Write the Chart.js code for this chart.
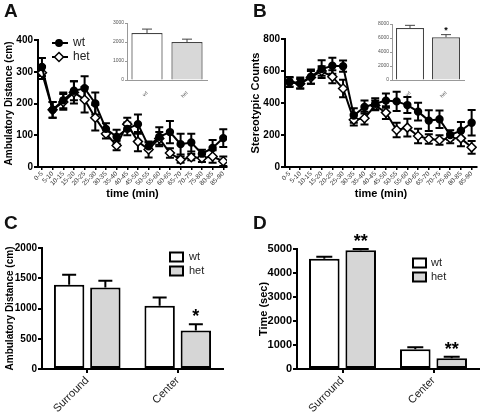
<!DOCTYPE html>
<html>
<head>
<meta charset="utf-8">
<script src="https://cdn.jsdelivr.net/npm/chart.js@4.4.1/dist/chart.umd.min.js"></script>
<style>
  body { margin: 0; background: #fff; }
  #wrap { position: relative; width: 483px; height: 416px; overflow: hidden; font-family: "Liberation Sans", Arial, sans-serif; }
  canvas { position: absolute; }
  .letter { position: absolute; font-weight: bold; font-size: 19px; color: #111; }
</style>
</head>
<body>
<div id="wrap">
  <canvas id="chartA" width="240" height="205" style="left:0;top:0"></canvas>
  <canvas id="chartB" width="243" height="205" style="left:240px;top:0"></canvas>
  <canvas id="chartC" width="240" height="211" style="left:0;top:205px"></canvas>
  <canvas id="chartD" width="243" height="211" style="left:240px;top:205px"></canvas>
  <canvas id="insetA" width="120" height="90" style="left:95px;top:12px"></canvas>
  <canvas id="insetB" width="115" height="90" style="left:355px;top:12px"></canvas>
  <div class="letter" style="left:4px;top:0">A</div>
  <div class="letter" style="left:253px;top:0">B</div>
  <div class="letter" style="left:4px;top:212px">C</div>
  <div class="letter" style="left:253px;top:212px">D</div>
</div>
<script>
// ---- data ----
const timeLabels = ["0-5", "5-10", "10-15", "15-20", "20-25", "25-30", "30-35", "35-40", "40-45",
  "45-50", "50-55", "55-60", "60-65", "65-70", "70-75", "75-80", "80-85", "85-90"];

const ambWt = [315, 180, 210, 240, 248, 200, 120, 95, 120, 135, 65, 95, 110, 72, 77, 42, 60, 91];
const ambWtErr = [28, 25, 25, 30, 38, 35, 18, 22, 20, 30, 12, 30, 35, 33, 28, 12, 25, 28];
const ambHet = [297, 180, 205, 235, 212, 155, 105, 68, 135, 80, 55, 90, 44, 23, 31, 28, 33, 18];
const ambHetErr = [20, 25, 25, 35, 40, 40, 15, 15, 20, 30, 25, 20, 15, 10, 10, 12, 20, 15];

const stereoWt = [533, 525, 565, 612, 633, 630, 322, 375, 395, 415, 410, 387, 346, 290, 298, 200, 227, 277];
const stereoWtErr = [30, 35, 45, 55, 50, 35, 45, 40, 35, 45, 60, 50, 55, 65, 55, 30, 55, 80];
const stereoHet = [530, 520, 560, 600, 564, 491, 295, 305, 385, 340, 231, 246, 194, 175, 169, 179, 179, 123];
const stereoHetErr = [30, 30, 40, 30, 40, 55, 35, 40, 30, 40, 45, 55, 45, 30, 30, 30, 50, 40];

const groups = ["wt", "het"];
const totalAmb = [2470, 1994];
const totalAmbErr = [210, 156];
const totalStereo = [7430, 6100];
const totalStereoErr = [380, 380];
const totalStereoStars = ["", "*"];

const zones = ["Surround", "Center"];
const zoneDistWt = [1392, 1044];
const zoneDistWtErr = [166, 138];
const zoneDistHet = [1348, 635];
const zoneDistHetErr = [111, 105];
const zoneDistHetStars = ["", "*"];

const zoneTimeWt = [4596, 822];
const zoneTimeWtErr = [84, 83];
const zoneTimeHet = [4944, 446];
const zoneTimeHetErr = [56, 69];
const zoneTimeHetStars = ["**", "**"];

Chart.defaults.font.family = '"Liberation Sans", Arial, sans-serif';
Chart.defaults.color = "#000";
Chart.defaults.animation = false;

// error bars (one sided for bars, both sides for lines)
const errorBars = {
  id: "errorBars",
  draw(chart, opts) {
    const ctx = chart.ctx;
    const y = chart.scales.y;
    chart.data.datasets.forEach((ds, di) => {
      if (!ds.errors) return;
      const meta = chart.getDatasetMeta(di);
      meta.data.forEach((el, i) => {
        const raw = ds.data[i];
        const v = typeof raw === "object" ? raw.y : raw;
        const e = ds.errors[i];
        const top = y.getPixelForValue(v + e);
        const bot = opts.both ? y.getPixelForValue(v - e) : y.getPixelForValue(v);
        ctx.save();
        ctx.strokeStyle = opts.color || "#000";
        ctx.lineWidth = opts.width || 2;
        ctx.beginPath();
        ctx.moveTo(el.x, top);
        ctx.lineTo(el.x, bot);
        ctx.moveTo(el.x - opts.cap, top);
        ctx.lineTo(el.x + opts.cap, top);
        if (opts.both) {
          ctx.moveTo(el.x - opts.cap, bot);
          ctx.lineTo(el.x + opts.cap, bot);
        }
        ctx.stroke();
        if (ds.stars && ds.stars[i]) {
          ctx.fillStyle = "#000";
          ctx.font = "bold " + opts.starSize + "px " + Chart.defaults.font.family;
          ctx.textAlign = "center";
          ctx.textBaseline = "alphabetic";
          ctx.fillText(ds.stars[i], el.x, top - 2);
        }
        ctx.restore();
      });
    });
  },
  beforeDatasetsDraw(chart, args, opts) { if (opts.before) this.draw(chart, opts); },
  afterDatasetsDraw(chart, args, opts) { if (!opts.before) this.draw(chart, opts); }
};

// legend drawn inside the plot, Prism style
const panelLegend = {
  id: "panelLegend",
  afterDraw(chart, args, opts) {
    if (!opts.kind) return;
    const ctx = chart.ctx;
    ctx.save();
    chart.data.datasets.forEach((ds, i) => {
      const x = opts.x, yy = opts.y + i * opts.gap;
      ctx.strokeStyle = "#000";
      if (opts.kind === "line") {
        ctx.lineWidth = 2;
        ctx.beginPath();
        ctx.moveTo(x, yy);
        ctx.lineTo(x + 16, yy);
        ctx.stroke();
        ctx.fillStyle = ds.pointBackgroundColor;
        ctx.lineWidth = 1.5;
        ctx.beginPath();
        if (ds.pointStyle === "circle") {
          ctx.arc(x + 7, yy, 3.2, 0, Math.PI * 2);
        } else {
          ctx.moveTo(x + 7, yy - 4.5); ctx.lineTo(x + 11.5, yy);
          ctx.lineTo(x + 7, yy + 4.5); ctx.lineTo(x + 2.5, yy); ctx.closePath();
        }
        ctx.fill();
        ctx.stroke();
      } else {
        ctx.lineWidth = 2;
        ctx.fillStyle = ds.backgroundColor;
        ctx.fillRect(x, yy - 4.5, 13, 9);
        ctx.strokeRect(x, yy - 4.5, 13, 9);
      }
      ctx.fillStyle = "#222";
      ctx.font = opts.size + "px " + Chart.defaults.font.family;
      ctx.textBaseline = "middle";
      ctx.textAlign = "left";
      ctx.fillText(ds.label, x + opts.textOff, yy);
    });
    ctx.restore();
  }
};

function yAxis(max, step, title, size, titleSize, width) {
  return {
    min: 0, max: max,
    ticks: { stepSize: step, font: { size: size, weight: "bold" }, padding: 1, callback: v => String(v) },
    grid: { drawOnChartArea: false, tickLength: 4, color: "#000", lineWidth: 2 },
    border: { color: "#000", width: 2 },
    title: { display: true, text: title, font: { size: titleSize, weight: "bold" }, padding: { top: 0, bottom: 2 } },
    afterFit: s => { s.width = width; }
  };
}

function timeAxis(min, max) {
  return {
    type: "linear", min: min, max: max,
    ticks: {
      stepSize: 1, includeBounds: false, autoSkip: false, maxRotation: 45, minRotation: 45,
      font: { size: 6.5 }, color: "#333", padding: 0,
      callback: v => (Number.isInteger(v) ? timeLabels[v] : "")
    },
    grid: { drawOnChartArea: false, tickLength: 3, color: "#000", lineWidth: 1.5 },
    border: { color: "#000", width: 2 },
    title: { display: true, text: "time (min)", font: { size: 11, weight: "bold" }, padding: 0 },
    afterFit: s => { s.height = 34; }
  };
}

function lineSets(wt, wtErr, het, hetErr) {
  return [
    { label: "wt", data: wt.map((v, i) => ({ x: i, y: v })), errors: wtErr,
      borderColor: "#000", borderWidth: 2, pointStyle: "circle", pointRadius: 3.2,
      pointBackgroundColor: "#000", pointBorderColor: "#000", tension: 0 },
    { label: "het", data: het.map((v, i) => ({ x: i, y: v })), errors: hetErr,
      borderColor: "#000", borderWidth: 2, pointStyle: "rectRot", pointRadius: 4.5,
      pointBackgroundColor: "#fff", pointBorderColor: "#000", pointBorderWidth: 1.5, tension: 0 }
  ];
}

new Chart(document.getElementById("chartA"), {
  type: "line",
  data: { datasets: lineSets(ambWt, ambWtErr, ambHet, ambHetErr) },
  options: {
    responsive: false,
    layout: { padding: { top: 40, left: 3, right: 13, bottom: 4 } },
    scales: { x: timeAxis(-0.37, 17.35), y: yAxis(400, 100, "Ambulatory Distance (cm)", 10, 10, 35) },
    plugins: {
      legend: { display: false }, tooltip: { enabled: false },
      errorBars: { both: true, cap: 4, width: 2, before: true },
      panelLegend: { kind: "line", x: 52, y: 43, gap: 14, size: 12, textOff: 21 }
    }
  },
  plugins: [errorBars, panelLegend]
});

new Chart(document.getElementById("chartB"), {
  type: "line",
  data: { datasets: lineSets(stereoWt, stereoWtErr, stereoHet, stereoHetErr) },
  options: {
    responsive: false,
    layout: { padding: { top: 39, left: 9, right: 6, bottom: 4 } },
    scales: { x: timeAxis(-0.42, 17.5), y: yAxis(800, 200, "Stereotypic Counts", 10, 11, 36) },
    plugins: {
      legend: { display: false }, tooltip: { enabled: false },
      errorBars: { both: true, cap: 4, width: 2, before: true }
    }
  },
  plugins: [errorBars]
});

function barSets(wt, wtErr, het, hetErr, hetStars) {
  return [
    { label: "wt", data: wt, errors: wtErr, backgroundColor: "#fff", borderColor: "#000",
      borderWidth: 2, borderSkipped: false, barPercentage: 0.84, categoryPercentage: 0.8 },
    { label: "het", data: het, errors: hetErr, stars: hetStars, backgroundColor: "#d6d6d6", borderColor: "#000",
      borderWidth: 2, borderSkipped: false, barPercentage: 0.84, categoryPercentage: 0.8 }
  ];
}

function catAxis() {
  return {
    ticks: { maxRotation: 45, minRotation: 45, font: { size: 11 }, color: "#222", padding: 1 },
    grid: { drawOnChartArea: false, offset: false, tickLength: 4, color: "#000", lineWidth: 2 },
    border: { color: "#000", width: 2 },
    afterFit: s => { s.height = 47; }
  };
}

new Chart(document.getElementById("chartC"), {
  type: "bar",
  data: { labels: zones, datasets: barSets(zoneDistWt, zoneDistWtErr, zoneDistHet, zoneDistHetErr, zoneDistHetStars) },
  options: {
    responsive: false,
    layout: { padding: { top: 43, left: 4, right: 17, bottom: 0 } },
    scales: { x: catAxis(), y: yAxis(2000, 500, "Ambulatory Distance (cm)", 10, 10, 38) },
    plugins: {
      legend: { display: false }, tooltip: { enabled: false },
      errorBars: { both: false, cap: 7, width: 2, starSize: 18 },
      panelLegend: { kind: "box", x: 170, y: 52, gap: 14, size: 11, textOff: 19 }
    }
  },
  plugins: [errorBars, panelLegend]
});

new Chart(document.getElementById("chartD"), {
  type: "bar",
  data: { labels: zones, datasets: barSets(zoneTimeWt, zoneTimeWtErr, zoneTimeHet, zoneTimeHetErr, zoneTimeHetStars) },
  options: {
    responsive: false,
    layout: { padding: { top: 44, left: 17, right: 4, bottom: 0 } },
    scales: { x: catAxis(), y: yAxis(5000, 1000, "Time (sec)", 11, 11, 40) },
    plugins: {
      legend: { display: false }, tooltip: { enabled: false },
      errorBars: { both: false, cap: 8, width: 2, starSize: 18 },
      panelLegend: { kind: "box", x: 173, y: 58, gap: 14, size: 11, textOff: 18 }
    }
  },
  plugins: [errorBars, panelLegend]
});

function insetOptions(max, step, yWidth, padTop, padRight) {
  return {
    responsive: false,
    layout: { padding: { top: padTop, left: 0, right: padRight, bottom: 0 } },
    scales: {
      x: {
        ticks: { maxRotation: 45, minRotation: 45, font: { size: 5 }, color: "#555", padding: 2 },
        grid: { display: false },
        border: { color: "#999", width: 1 },
        afterFit: s => { s.height = 22; }
      },
      y: {
        min: 0, max: max,
        ticks: { stepSize: step, font: { size: 5 }, color: "#555", padding: 1, callback: v => String(v) },
        grid: { drawOnChartArea: false, tickLength: 2, color: "#999", lineWidth: 1 },
        border: { color: "#999", width: 1 },
        afterFit: s => { s.width = yWidth; }
      }
    },
    plugins: {
      legend: { display: false }, tooltip: { enabled: false },
      errorBars: { both: false, cap: 5, width: 1, color: "#444", starSize: 9 }
    }
  };
}

new Chart(document.getElementById("insetA"), {
  type: "bar",
  data: { labels: groups, datasets: [{ data: totalAmb, errors: totalAmbErr,
    backgroundColor: ["#fff", "#d8d8d8"], borderColor: "#444", borderWidth: 1.2,
    borderSkipped: "bottom", barPercentage: 0.78, categoryPercentage: 1 }] },
  options: insetOptions(3000, 1000, 32, 11, 8),
  plugins: [errorBars]
});

new Chart(document.getElementById("insetB"), {
  type: "bar",
  data: { labels: groups, datasets: [{ data: totalStereo, errors: totalStereoErr, stars: totalStereoStars,
    backgroundColor: ["#fff", "#d8d8d8"], borderColor: "#444", borderWidth: 1.2,
    borderSkipped: "bottom", barPercentage: 0.78, categoryPercentage: 1 }] },
  options: insetOptions(8000, 2000, 37, 12, 6),
  plugins: [errorBars]
});
</script>
</body>
</html>
